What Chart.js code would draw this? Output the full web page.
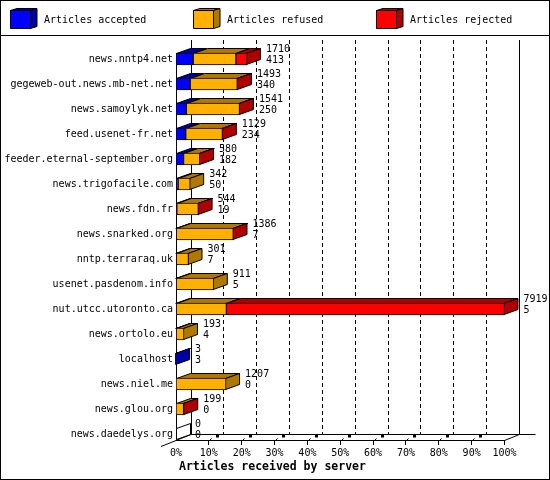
<!DOCTYPE html>
<html>
<head>
<meta charset="utf-8">
<script src="https://cdn.jsdelivr.net/npm/chart.js@4.4.1/dist/chart.umd.min.js"></script>
<style>
html,body{margin:0;padding:0;background:#fff;}
canvas{display:block;}
</style>
</head>
<body>
<canvas id="c" width="550" height="480"></canvas>
<script>
// ---- data ----
const servers = [
  'news.nntp4.net', 'gegeweb-out.news.mb-net.net', 'news.samoylyk.net', 'feed.usenet-fr.net',
  'feeder.eternal-september.org', 'news.trigofacile.com', 'news.fdn.fr', 'news.snarked.org',
  'nntp.terraraq.uk', 'usenet.pasdenom.info', 'nut.utcc.utoronto.ca', 'news.ortolo.eu',
  'localhost', 'news.niel.me', 'news.glou.org', 'news.daedelys.org'
];
const accepted = [413, 340, 250, 234, 182, 50, 19, 7, 7, 5, 5, 4, 3, 0, 0, 0];
const refused  = [1032, 1138, 1281, 885, 393, 292, 520, 1374, 294, 906, 1210, 189, 0, 1207, 183, 0];
const rejected = [265, 15, 10, 10, 5, 0, 5, 5, 0, 0, 6704, 0, 0, 0, 16, 0];
const totalLabels = [1710, 1493, 1541, 1129, 580, 342, 544, 1386, 301, 911, 7919, 193, 3, 1207, 199, 0];
const seriesNames = ['Articles accepted', 'Articles refused', 'Articles rejected'];
const frontColors = ['#0000ff', '#ffb000', '#ff0000'];
const darkColors  = ['#0000a8', '#b07800', '#b00000'];
const xTickPercents = [0, 10, 20, 30, 40, 50, 60, 70, 80, 90, 100];
const axisTitle = 'Articles received by server';

const maxTotal = Math.max(...totalLabels);
const MONO = '"DejaVu Sans Mono", monospace';
const BAR_DX = 14, BAR_DY = 5, WALL_DX = 15, WALL_DY = 6, WALL_TOP = 40;

function crisp(v) { return Math.floor(v) + 0.5; }

function line(ctx, x1, y1, x2, y2) {
  ctx.beginPath(); ctx.moveTo(x1, y1); ctx.lineTo(x2, y2); ctx.stroke();
}
function poly(ctx, pts, fill) {
  ctx.beginPath();
  pts.forEach((p, k) => k ? ctx.lineTo(p[0], p[1]) : ctx.moveTo(p[0], p[1]));
  ctx.closePath();
  if (fill) { ctx.fillStyle = fill; ctx.fill(); }
  ctx.stroke();
}

const plugin3d = {
  id: 'plugin3d',
  beforeDraw(chart) {
    const ctx = chart.ctx;
    ctx.save();
    ctx.fillStyle = '#fff';
    ctx.fillRect(0, 0, chart.width, chart.height);
    ctx.restore();
  },
  beforeDatasetsDraw(chart) {
    const {ctx, chartArea: ca} = chart;
    const xs = chart.scales.x, ys = chart.scales.y;
    const metas = chart.data.datasets.map((_, d) => chart.getDatasetMeta(d));
    const thick = metas[0].data[0].height;
    const fy = Math.round(ys.getPixelForTick(servers.length - 1) + thick / 2);
    const firstTop = Math.round(ys.getPixelForTick(0) - thick / 2);
    const fl = ca.left, fr = xs.getPixelForValue(xs.max);
    const by = fy - WALL_DY;
    ctx.save();
    ctx.lineWidth = 1;
    ctx.strokeStyle = '#000';
    // back wall dashed grid lines
    ctx.setLineDash([4, 3]);
    xs.ticks.forEach(t => {
      if (t.value <= xs.min || t.value >= xs.max) return;
      const px = crisp(xs.getPixelForValue(t.value) + WALL_DX);
      line(ctx, px, WALL_TOP, px, by);
    });
    ctx.setLineDash([]);
    // back wall edges
    line(ctx, crisp(fl + WALL_DX), WALL_TOP, crisp(fl + WALL_DX), by + 1);
    line(ctx, crisp(fr + WALL_DX), WALL_TOP, crisp(fr + WALL_DX), by + 1);
    // back floor line
    line(ctx, fl + WALL_DX, by + 0.5, fr + WALL_DX + 16, by + 0.5);
    // floor side diagonals
    line(ctx, fl - WALL_DX, fy + WALL_DY + 0.5, fl + WALL_DX, by + 0.5);
    line(ctx, fr, fy + 0.5, fr + WALL_DX, by + 0.5);
    // front floor line
    line(ctx, fl, fy + 0.5, fr, fy + 0.5);
    // front left vertical
    line(ctx, crisp(fl), firstTop, crisp(fl), fy + 1);
    // tick marks
    ctx.fillStyle = '#000';
    xs.ticks.forEach(t => {
      const px = crisp(xs.getPixelForValue(t.value));
      if (t.value <= xs.min) return;
      line(ctx, px, fy, px, fy + 5);
      if (t.value >= xs.max) return;
      line(ctx, px, fy + 1.5, px + 3, fy - 1.5);
      ctx.fillRect(Math.floor(px) + 8, by + 1, 3, 2.5);
    });
    // 3D faces of bars
    servers.forEach((_, i) => {
      let last = -1;
      metas.forEach((m, d) => {
        const v = chart.data.datasets[d].data[i];
        if (!(v > 0)) return;
        last = d;
        const el = m.data[i];
        const l = Math.min(el.base, el.x) + 0.5, r = Math.max(el.base, el.x) - 0.5;
        const t = el.y - el.height / 2 + 0.5;
        poly(ctx, [[l, t], [r, t], [r + BAR_DX, t - BAR_DY], [l + BAR_DX, t - BAR_DY]], darkColors[d]);
      });
      const yc = ys.getPixelForTick(i);
      const t = yc - thick / 2 + 0.5, b = yc + thick / 2 - 0.5;
      const r = (last >= 0 ? metas[last].data[i].x : fl) - 0.5;
      const rr = last >= 0 ? r : crisp(fl);
      poly(ctx, [[rr, t], [rr + BAR_DX, t - BAR_DY], [rr + BAR_DX, b - BAR_DY], [rr, b]],
           last >= 0 ? darkColors[last] : '#fff');
    });
    ctx.restore();
  },
  afterDatasetsDraw(chart) {
    const ctx = chart.ctx;
    const ys = chart.scales.y;
    const lastMeta = chart.getDatasetMeta(chart.data.datasets.length - 1);
    ctx.save();
    ctx.font = '10px ' + MONO;
    ctx.fillStyle = '#000';
    ctx.textAlign = 'left';
    ctx.textBaseline = 'middle';
    servers.forEach((_, i) => {
      const yc = ys.getPixelForTick(i);
      const end = lastMeta.data[i].x;
      ctx.fillText(String(totalLabels[i]), end + BAR_DX + 5, yc - 10);
      ctx.fillText(String(accepted[i]), end + BAR_DX + 5, yc + 1);
    });
    ctx.restore();
  },
  afterDraw(chart) {
    const ctx = chart.ctx;
    ctx.save();
    ctx.lineWidth = 1;
    ctx.strokeStyle = '#000';
    // legend with 3D cubes
    chart.data.datasets.forEach((ds, k) => {
      const x0 = 10 + 183 * k;
      poly(ctx, [[x0 + 0.5, 10.5], [x0 + 7, 8.5], [x0 + 27, 8.5], [x0 + 20.5, 10.5]], darkColors[k]);
      poly(ctx, [[x0 + 20.5, 10.5], [x0 + 27, 8.5], [x0 + 27, 26.5], [x0 + 20.5, 28.5]], darkColors[k]);
      poly(ctx, [[x0 + 0.5, 10.5], [x0 + 20.5, 10.5], [x0 + 20.5, 28.5], [x0 + 0.5, 28.5]], ds.backgroundColor);
      ctx.fillStyle = '#000';
      ctx.font = '10px ' + MONO;
      ctx.textAlign = 'left';
      ctx.textBaseline = 'middle';
      ctx.fillText(ds.label, x0 + 34, 20);
    });
    // separator and outer frame
    line(ctx, 0, 35.5, chart.width, 35.5);
    ctx.strokeRect(0.5, 0.5, chart.width - 1, chart.height - 1);
    // x-axis title
    ctx.fillStyle = '#000';
    ctx.font = 'bold 11.5px ' + MONO;
    ctx.textAlign = 'left';
    ctx.textBaseline = 'middle';
    ctx.fillText(axisTitle, chart.chartArea.left + 3, 467);
    ctx.restore();
  }
};

new Chart(document.getElementById('c'), {
  type: 'bar',
  data: {
    labels: servers,
    datasets: [accepted, refused, rejected].map((arr, k) => ({
      label: seriesNames[k],
      data: arr,
      backgroundColor: frontColors[k],
      borderColor: '#000',
      borderWidth: 1,
      borderSkipped: false,
      barThickness: 12
    }))
  },
  options: {
    indexAxis: 'y',
    responsive: false,
    animation: false,
    events: [],
    layout: { padding: { left: 0, right: 45.5, top: 46.5, bottom: 0 } },
    plugins: { legend: { display: false }, tooltip: { enabled: false } },
    scales: {
      x: {
        stacked: true,
        min: 0,
        max: maxTotal,
        grid: { display: false, drawTicks: false },
        border: { display: false },
        afterBuildTicks(scale) {
          scale.ticks = xTickPercents.map(p => ({ value: p / 100 * maxTotal }));
        },
        afterFit(scale) { scale.height = 33.5; },
        ticks: {
          autoSkip: false,
          maxRotation: 0,
          padding: 1,
          color: '#000',
          font: { family: MONO, size: 10 },
          callback: (v, i) => xTickPercents[i] + '%'
        }
      },
      y: {
        stacked: true,
        grid: { display: false, drawTicks: false },
        border: { display: false },
        afterFit(scale) { scale.width = 176; },
        ticks: {
          autoSkip: false,
          padding: 3,
          color: '#000',
          font: { family: MONO, size: 10 }
        }
      }
    }
  },
  plugins: [plugin3d]
});
</script>
</body>
</html>
